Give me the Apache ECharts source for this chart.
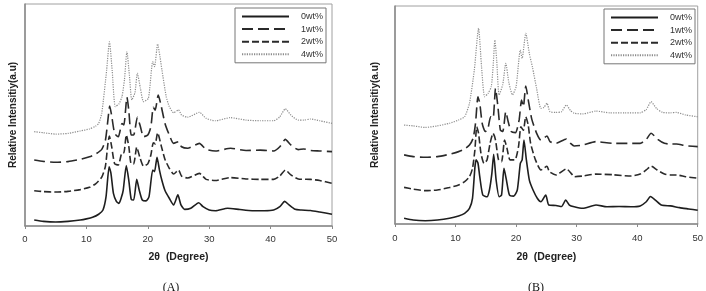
<!DOCTYPE html>
<html>
<head>
<meta charset="utf-8">
<script src="https://cdn.jsdelivr.net/npm/echarts@6/dist/echarts.min.js"></script>
<style>
  html,body{margin:0;padding:0;background:#fff;}
  #chart{width:706px;height:291px;}
</style>
</head>
<body>
<div id="chart"></div>
<script>
// tick labels on 2θ axis
let xTicks = [0, 10, 20, 30, 40, 50];
let seriesNames = ['0wt%', '1wt%', '2wt%', '4wt%'];

// panel (A) : [2θ, relative intensity]
let A_0wt = [[1.5,2.7],[3,2.1],[5,1.8],[7,2.1],[9,2.7],[10,3.2],[11,3.9],[12,5.3],[12.7,7.2],[13.2,13.2],[13.7,26.7],[14.0,23.7],[14.4,14.7],[14.9,11],[15.3,10.2],[15.7,12.9],[16.0,16.2],[16.5,27.2],[16.9,20.7],[17.3,12],[17.7,11.7],[18.2,21],[18.6,16.2],[19.1,11.7],[19.7,11.3],[20.2,13.2],[20.8,25.2],[21.1,24.5],[21.5,31],[21.9,25.2],[22.3,20.5],[22.8,16],[23.5,12.5],[24.2,9.5],[24.9,14],[25.4,9.5],[26,7.5],[27,8],[28.3,10.5],[29,8.7],[30,7.2],[31,6.9],[33,8],[35,7.4],[37,6.9],[39,6.9],[40.5,7.2],[41.5,8.7],[42.3,11.1],[43,9.5],[44,7.5],[45,7.2],[46.5,7],[48,6.3],[50,5.3]];
let A_1wt = [[1.5,29.7],[3,29.1],[5,28.7],[7,29],[9,30],[10.5,31.2],[11.5,32.4],[12.5,34.5],[13.1,38.7],[13.5,47.7],[13.8,54],[14.1,50],[14.6,41.7],[15.2,40.2],[15.8,46.2],[16.1,45.5],[16.6,58],[16.9,52.2],[17.3,41],[17.7,41],[18.3,49],[18.8,44.7],[19.3,40.2],[20,41],[20.5,44.7],[20.9,53.5],[21.2,52.2],[21.7,59],[22.2,53.8],[22.8,46.2],[23.5,41],[24.2,37.2],[25,38],[25.5,35.7],[26.5,35],[28.4,37.2],[29.5,34.5],[31,33.8],[33.5,35],[36,34],[38.3,34.2],[40.5,33.8],[41.5,35.7],[42.4,39],[43.3,36.5],[44.5,34.4],[45.4,34.7],[46.5,34],[48,33.8],[50,33.5]];
let A_2wt = [[1.5,15.9],[3,15.5],[5,15.3],[7,15.6],[9,16.4],[10.5,17.4],[11.5,19],[12.5,22],[13.1,27],[13.5,37],[13.75,40.5],[14.1,36],[14.6,28],[15.2,27.5],[15.8,33],[16.1,33],[16.5,41],[16.9,36],[17.3,28],[17.7,28],[18.2,35.5],[18.7,31],[19.3,27],[20,28],[20.5,32],[20.9,37.5],[21.2,37],[21.6,42],[22.2,36],[22.8,30],[23.5,26],[24.2,23.4],[25,25.2],[25.5,22.5],[26.5,21.6],[28.4,23.7],[29.5,21],[31,20.5],[33.4,21.8],[36,21.2],[38.3,21],[40.5,21],[41.5,22.5],[42.4,25.2],[43.3,23],[44.5,21.2],[46.5,21],[48,20.5],[50,19.2]];
let A_4wt = [[1.5,42.5],[3,42],[5,41.4],[7,41.7],[9,42.8],[10.5,43.7],[11.5,45],[12,46.2],[12.5,50.8],[13.3,70.3],[13.75,83],[14.2,70],[14.7,53.8],[15.3,55],[15.8,58.3],[16.2,66],[16.6,78.5],[17.0,68],[17.4,56.8],[17.9,60],[18.3,68.8],[18.8,62],[19.3,56],[20.1,57.5],[20.8,74],[21.1,71.8],[21.6,82],[22.0,76],[22.3,70.3],[23,58.3],[23.5,53.8],[24.2,51],[25,52.3],[25.5,50],[26.5,49],[28.4,51.2],[29.5,48.5],[31,47.4],[33.4,48.8],[36,47.7],[38.3,47.4],[40.5,47.4],[41.5,49.2],[42.4,52.8],[43.3,50],[44.5,47.7],[45.4,47.7],[46.5,48.2],[48,47.4],[50,46.2]];

// panel (B)
let B_0wt = [[1.5,2.6],[3,1.8],[5,1.5],[7,1.8],[9,2.6],[10.5,3.7],[11.5,4.9],[12.3,7.2],[12.8,11.8],[13.2,26],[13.4,29.4],[13.7,28],[14.0,21.7],[14.5,13.3],[15.2,12.5],[15.6,15.6],[16.0,23.2],[16.3,32],[16.7,20.2],[17.2,12.5],[17.6,13.3],[18.0,25.5],[18.4,20.2],[18.9,13.3],[19.6,12.8],[20.2,15.6],[20.7,27.8],[21.0,29.4],[21.3,38.5],[21.7,29.4],[22.2,20],[22.8,15.6],[23.5,11.8],[24.1,10.2],[24.9,13.3],[25.4,8.7],[26.6,8.5],[27.5,8],[28.2,11],[28.8,8.7],[29.6,7.9],[31,7.2],[33.2,8.7],[35,7.9],[37,8],[39,7.9],[40.5,8.3],[41.5,10.2],[42.2,12.6],[43,11],[44,8.7],[45.5,8.3],[47,7.5],[48.5,6.9],[50,6.3]];
let B_1wt = [[1.5,31.7],[3,30.9],[5,30.6],[7,30.9],[9,32],[10.5,33.2],[11.5,34.4],[12.3,36.2],[12.9,39.3],[13.3,46.2],[13.7,58.4],[14.0,55.4],[14.4,46.2],[14.9,42.4],[15.3,43.1],[15.8,49.2],[16.2,48.5],[16.6,62.2],[17.0,53.8],[17.4,43.1],[17.8,42.4],[18.3,51.5],[18.7,46.9],[19.2,42.4],[19.9,41.9],[20.5,47.7],[20.9,56.9],[21.2,53.8],[21.6,63.3],[22.1,55.4],[22.6,48],[23.4,41.6],[24.1,38.5],[25.1,40.4],[25.6,37.8],[26.6,37],[28.3,39],[29.0,37],[29.6,35.8],[31,36.2],[33.2,37.8],[36,37],[39,37],[40.5,37],[41.5,38.8],[42.3,41.6],[43.4,38.8],[44.5,37],[45.5,36.7],[46.5,36.7],[48,35.9],[50,35.5]];
let B_2wt = [[1.5,16.8],[3,16],[5,15.3],[7,15.6],[9,16.7],[10.5,17.9],[11.5,19.4],[12.3,21.7],[12.8,25.5],[13.2,34],[13.5,44.6],[13.8,41.6],[14.2,32.4],[14.7,27.8],[15.2,29.4],[15.7,37],[16.2,41.6],[16.6,38.5],[17.1,29.4],[17.6,28.6],[18.1,38.5],[18.5,34.7],[19,29.4],[19.8,29.4],[20.4,35.5],[20.8,44.6],[21.2,43],[21.6,49.2],[22.0,45.4],[22.4,37],[23.2,29.4],[24.1,24.8],[25.1,26.5],[25.5,24],[26.6,22.5],[28.3,25.3],[29.2,22.9],[29.6,21.7],[31,22],[33.2,22.9],[36,22.6],[39,22],[40.5,22.9],[41.5,24.8],[42.3,26.5],[43.3,24.8],[44.5,22.9],[45.5,22.5],[46.5,22.5],[48,21.7],[50,21]];
let B_4wt = [[1.5,45.4],[3,45],[5,44.3],[7,45],[9,46.2],[10.5,47.7],[11.5,49.2],[12.3,55.4],[13.1,70.6],[13.8,89.8],[14.3,72],[14.8,58.4],[15.4,60],[15.9,63],[16.2,72],[16.5,84.4],[16.8,75],[17.2,59.2],[17.8,64],[18.3,73.7],[18.8,65],[19.4,59.2],[20.0,63],[20.7,79.8],[21.0,76],[21.6,87.5],[22.2,78],[22.7,72],[23.4,62],[24.1,53],[24.6,53.5],[25.1,55.4],[25.6,51.5],[26.6,51.2],[27.5,51.5],[28.3,54.6],[29.0,52],[29.6,50.8],[31,50.5],[33.2,51.8],[35.5,51],[38,51],[40.5,51],[41.5,52.5],[42.3,56.1],[43.2,53],[44.2,51.2],[45.5,51],[46.5,51.2],[48,50],[50,49.2]];

let styles = [
  {color:'#1e1e1e', width:1.6, type:'solid'},
  {color:'#2a2a2a', width:1.6, type:[11,5]},
  {color:'#2a2a2a', width:1.6, type:[7,3]},
  {color:'#8c8c8c', width:1.2, type:[1.2,1.2]}
];

let chart = echarts.init(document.getElementById('chart'));
let font = 'Liberation Sans, Arial, sans-serif';

function xAxisOf(gi, gap, margin){
  return {
    gridIndex: gi, type:'value', min:0, max:50, interval:10,
    name:'2θ  (Degree)', nameLocation:'middle', nameGap:gap,
    nameTextStyle:{fontFamily:font, fontWeight:'bold', fontSize:10.5, color:'#222'},
    axisLine:{show:true, lineStyle:{color:'#8a8a8a', width:1.5}},
    axisTick:{show:true, length:3, lineStyle:{color:'#8a8a8a'}},
    axisLabel:{fontFamily:font, fontSize:9.5, color:'#333', margin:margin,
      formatter:function(v){ return xTicks.indexOf(v) >= 0 ? String(v) : ''; }},
    splitLine:{show:false}
  };
}
function yAxisOf(gi, gap){
  return {
    gridIndex: gi, type:'value', min:0, max:100,
    name:'Relative Intensitiy(a.u)', nameLocation:'middle', nameGap:gap, nameRotate:90,
    nameTextStyle:{fontFamily:font, fontWeight:'bold', fontSize:10, color:'#222'},
    axisLine:{show:true, lineStyle:{color:'#8a8a8a', width:1.5}},
    axisTick:{show:false}, axisLabel:{show:false}, splitLine:{show:false}
  };
}

let panels = [[A_0wt, A_1wt, A_2wt, A_4wt], [B_0wt, B_1wt, B_2wt, B_4wt]];
let series = [];
panels.forEach(function(list, gi){
  list.forEach(function(d, i){
    series.push({
      name: seriesNames[i], type:'line', data:d,
      xAxisIndex:gi, yAxisIndex:gi,
      symbol:'none', smooth:0.2, silent:true, animation:false,
      lineStyle:{color:styles[i].color, width:styles[i].width, type:styles[i].type},
      itemStyle:{color:styles[i].color}
    });
  });
});

function legendOf(left, top){
  return {
    show:true, type:'plain',
    orient:'vertical', left:left, top:top,
    data:seriesNames.slice(),
    itemWidth:47, itemHeight:8, itemGap:3.6,
    padding:[4, 3, 4, 6],
    borderColor:'#777', borderWidth:1, backgroundColor:'#fff',
    selectedMode:false,
    itemStyle:{opacity:0, borderWidth:0},
    textStyle:{fontFamily:font, fontSize:9, color:'#333', padding:[0,0,0,7]}
  };
}

let option = {
  backgroundColor:'#fff',
  animation:false,
  title:[
    {text:'(A)', left:166, top:277, textAlign:'center',
     textStyle:{fontFamily:'Liberation Serif, Times New Roman, serif', fontSize:12, fontWeight:'normal', color:'#111'}},
    {text:'(B)', left:531, top:277, textAlign:'center',
     textStyle:{fontFamily:'Liberation Serif, Times New Roman, serif', fontSize:12, fontWeight:'normal', color:'#111'}}
  ],
  grid:[
    {left:25, top:4, width:307, height:222, show:true, borderColor:'#a0a0a0', borderWidth:1},
    {left:395, top:6, width:304, height:218, show:true, borderColor:'#a0a0a0', borderWidth:1}
  ],
  legend:[legendOf(235, 8), legendOf(604, 9)],
  xAxis:[xAxisOf(0, 26, 8), xAxisOf(1, 28, 9)],
  yAxis:[yAxisOf(0, 7), yAxisOf(1, 15)],
  series:series
};
chart.setOption(option);
</script>
</body>
</html>
